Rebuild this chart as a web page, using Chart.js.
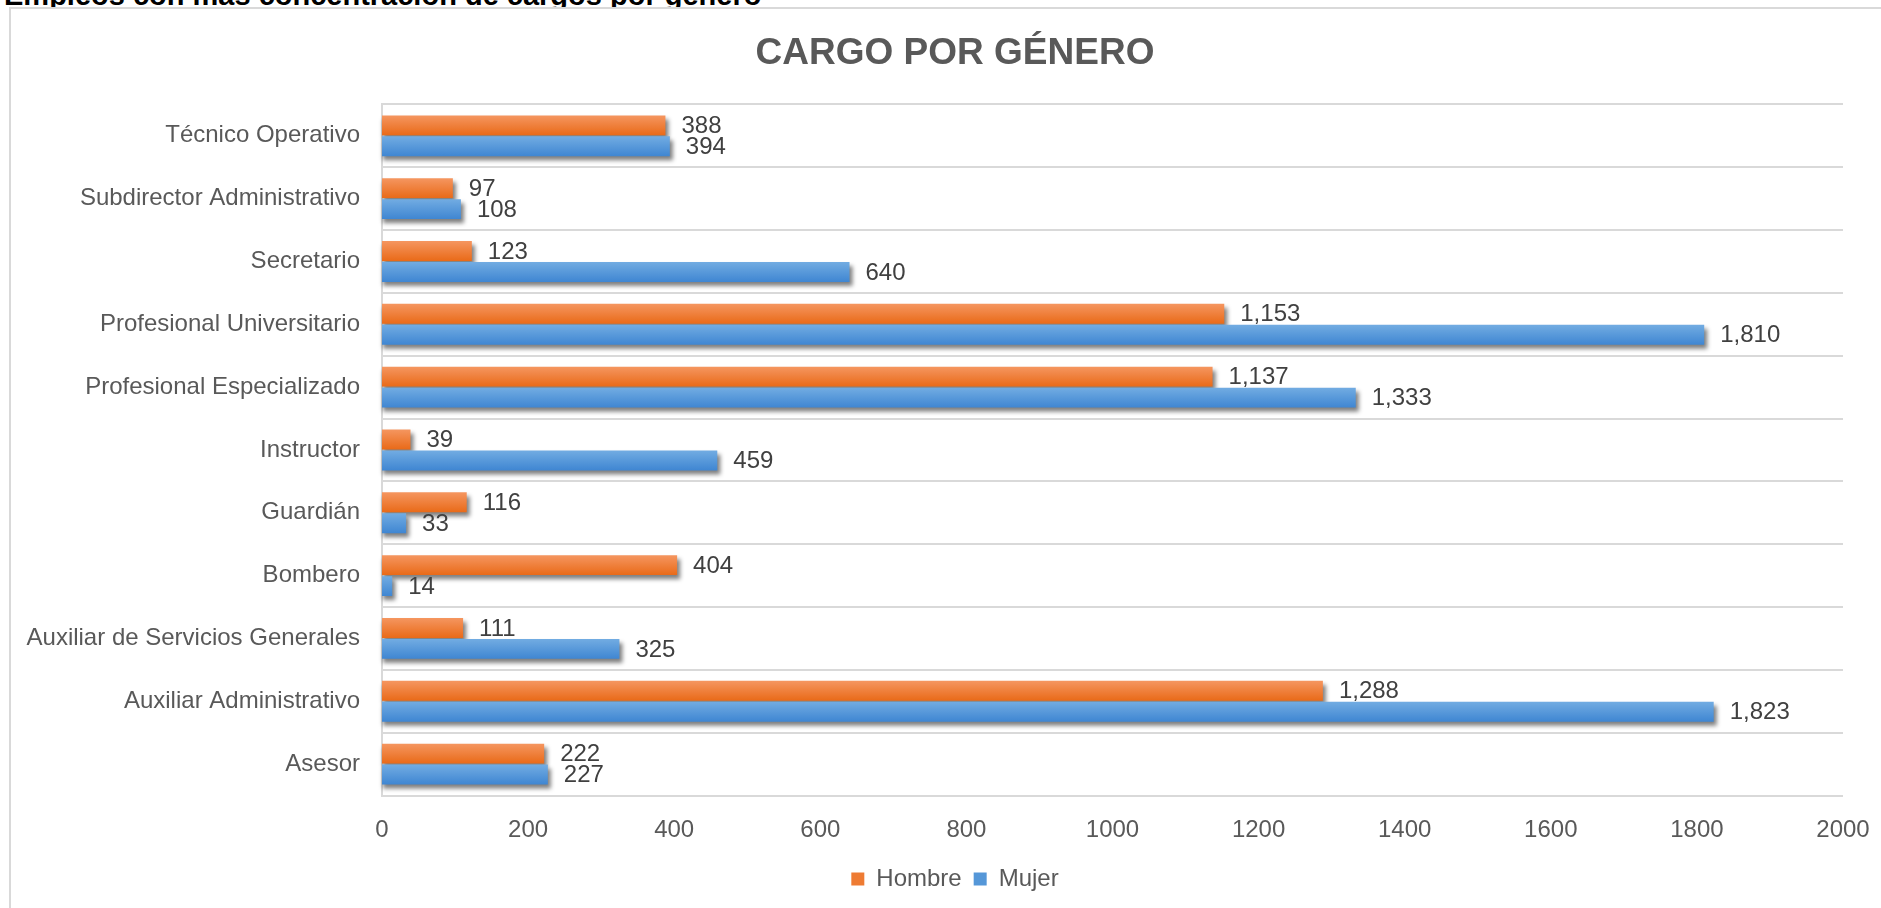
<!DOCTYPE html>
<html>
<head>
<meta charset="utf-8">
<script src="https://cdn.jsdelivr.net/npm/chart.js@4/dist/chart.umd.min.js"></script>
<style>
html,body{margin:0;padding:0;width:1881px;height:908px;overflow:hidden;background:#fff;font-family:"Liberation Sans",Arial,sans-serif;}
#hdr{position:absolute;left:4px;top:-19px;font-weight:bold;font-size:29px;line-height:29px;color:#000;white-space:nowrap;z-index:0;}
#box{position:absolute;left:9px;top:7px;width:1900px;height:920px;border-left:2px solid #d9d9d9;border-top:2px solid #d9d9d9;background:#fff;z-index:1;}
#wrap{position:absolute;left:11px;top:9px;width:1888px;height:899px;z-index:2;}
</style>
</head>
<body>
<div id="hdr">Empleos con más concentración de cargos por género</div>
<div id="box"></div>
<div id="wrap"><canvas id="c" width="1888" height="899"></canvas></div>
<script>
const chartTitle = 'CARGO POR GÉNERO';
const categories = ['Técnico Operativo','Subdirector Administrativo','Secretario','Profesional Universitario','Profesional Especializado','Instructor','Guardián','Bombero','Auxiliar de Servicios Generales','Auxiliar Administrativo','Asesor'];
const hombre = [388, 97, 123, 1153, 1137, 39, 116, 404, 111, 1288, 222];
const mujer  = [394, 108, 640, 1810, 1333, 459, 33, 14, 325, 1823, 227];
const xTicks = [0, 200, 400, 600, 800, 1000, 1200, 1400, 1600, 1800, 2000];
const seriesNames = ['Hombre', 'Mujer'];

const FONT = '"Liberation Sans", Arial, sans-serif';
const CAT_PCT = 0.667, BAR_PCT = 0.95;
const solid = ['#EE7B33', '#5597D8'];

function grad(top, bottom, fallback){
  return (c) => {
    const chart = c.chart, ys = chart.scales && chart.scales.y;
    if (c.type !== 'data' || !ys || !chart.chartArea) return fallback;
    const n = categories.length;
    const band = (ys.bottom - ys.top) / n;
    const center = ys.getPixelForValue(c.dataIndex);
    const catW = band * CAT_PCT, slot = catW / 2, barH = slot * BAR_PCT;
    const y0 = center - catW / 2 + c.datasetIndex * slot + (slot - barH) / 2;
    const g = chart.ctx.createLinearGradient(0, y0, 0, y0 + barH);
    g.addColorStop(0, top);
    g.addColorStop(1, bottom);
    return g;
  };
}

const shadowPlugin = {
  id: 'barShadow',
  beforeDatasetsDraw(chart){
    const ctx = chart.ctx;
    ctx.save();
    ctx.filter = 'blur(2px)';
    ctx.fillStyle = 'rgba(0,0,0,0.5)';
    chart.data.datasets.forEach((ds, i) => {
      chart.getDatasetMeta(i).data.forEach(el => {
        const p = el.getProps(['x','y','base','height'], true);
        ctx.fillRect(p.base + 1, p.y - p.height / 2 + 4, p.x - p.base + 2, p.height);
      });
    });
    ctx.restore();
  }
};

const labelPlugin = {
  id: 'valueLabels',
  afterDatasetsDraw(chart){
    const ctx = chart.ctx;
    ctx.save();
    ctx.font = '24px ' + FONT;
    ctx.fillStyle = '#404040';
    ctx.textBaseline = 'middle';
    ctx.textAlign = 'left';
    chart.data.datasets.forEach((ds, i) => {
      chart.getDatasetMeta(i).data.forEach((el, j) => {
        const p = el.getProps(['x','y'], true);
        ctx.fillText(ds.data[j].toLocaleString('en-US'), p.x + 16, p.y + 1);
      });
    });
    ctx.restore();
  }
};

new Chart(document.getElementById('c'), {
  type: 'bar',
  data: {
    labels: categories,
    datasets: [
      { label: seriesNames[0], data: hombre, backgroundColor: grad('#F59660', '#E96A18', solid[0]), borderWidth: 0,
        categoryPercentage: CAT_PCT, barPercentage: BAR_PCT },
      { label: seriesNames[1], data: mujer, backgroundColor: grad('#72ACE2', '#3F86D2', solid[1]), borderWidth: 0,
        categoryPercentage: CAT_PCT, barPercentage: BAR_PCT }
    ]
  },
  options: {
    indexAxis: 'y',
    responsive: false,
    devicePixelRatio: 1,
    animation: false,
    layout: { padding: { left: 0, right: 0, top: 0, bottom: 7 } },
    plugins: {
      title: {
        display: true, text: chartTitle, color: '#595959',
        font: { family: FONT, size: 37, weight: 'bold' },
        padding: { top: 23, bottom: 28 }
      },
      legend: {
        position: 'bottom',
        labels: {
          boxWidth: 13, boxHeight: 13, padding: 12, color: '#595959',
          font: { family: FONT, size: 24 },
          sort: (a, b) => a.datasetIndex - b.datasetIndex,
          generateLabels(chart){
            const items = Chart.defaults.plugins.legend.labels.generateLabels(chart);
            items.forEach(it => { it.fillStyle = solid[it.datasetIndex]; it.strokeStyle = solid[it.datasetIndex]; it.lineWidth = 0; });
            return items;
          }
        }
      },
      tooltip: { enabled: false }
    },
    scales: {
      x: {
        min: 0, max: 2000,
        grid: { display: false, drawTicks: false },
        border: { display: false },
        ticks: { color: '#595959', font: { family: FONT, size: 24 }, padding: 20, maxRotation: 0, autoSkip: false,
                 callback: (v) => String(v) },
        afterBuildTicks(s){ s.ticks = xTicks.map(v => ({ value: v })); },
        afterFit(s){ s.height = 59.5; s.paddingRight = 56; }
      },
      y: {
        grid: { color: '#d9d9d9', lineWidth: 2, drawTicks: false, offset: true },
        border: { display: true, color: '#d9d9d9', width: 2 },
        ticks: { color: '#595959', font: { family: FONT, size: 24 }, padding: 22, autoSkip: false },
        afterFit(s){ s.width = 371; }
      }
    }
  },
  plugins: [shadowPlugin, labelPlugin]
});
</script>
</body>
</html>
